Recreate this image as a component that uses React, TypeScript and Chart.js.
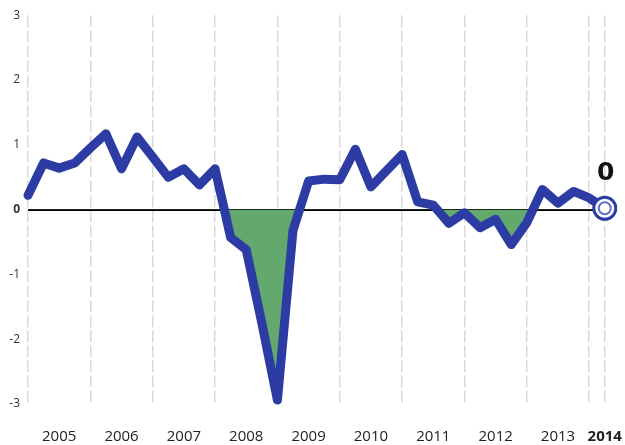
import React, { useEffect, useRef } from "react";
import { Chart, registerables } from "chart.js";

Chart.register(...registerables);

const START_YEAR = 2005;
// quarterly values, 2005 Q1 .. 2014 Q2
const values: number[] = [
  0.22, 0.72, 0.64, 0.72, 0.95, 1.17, 0.63, 1.12, 0.81, 0.5,
  0.63, 0.38, 0.63, -0.43, -0.62, -1.75, -2.94, -0.32, 0.44, 0.47,
  0.46, 0.93, 0.35, 0.6, 0.85, 0.12, 0.07, -0.21, -0.05, -0.28,
  -0.15, -0.54, -0.2, 0.31, 0.1, 0.28, 0.18, 0.02,
];
const yearLabels: string[] = ["2005", "2006", "2007", "2008", "2009", "2010", "2011", "2012", "2013", "2014"];
const yTicks: number[] = [-3, -2, -1, 0, 1, 2, 3];
const lastLabel = "0";

const BLUE = "#2c3ca4";
const GREEN = "#63a96d";
const FONT = "'Open Sans', 'DejaVu Sans', sans-serif";

export default function App() {
  const ref = useRef<HTMLCanvasElement | null>(null);

  useEffect(() => {
    if (!ref.current) return;
    const points = values.map((v, i) => ({ x: START_YEAR + i / 4, y: v }));
    const lastIdx = values.length - 1;
    const lastX = START_YEAR + lastIdx / 4;

    const tickValues: number[] = [];
    for (let i = 0; i < yearLabels.length; i++) {
      tickValues.push(START_YEAR + i);
      if (i < yearLabels.length - 1) tickValues.push(START_YEAR + i + 0.5);
    }
    tickValues.push(lastX);

    const labelFor = (v: number): string => {
      if (Math.abs(v - lastX) < 1e-6) return yearLabels[yearLabels.length - 1];
      if (Math.abs(v - Math.round(v)) < 1e-6) return "";
      return String(Math.floor(v));
    };

    const endLabelPlugin = {
      id: "endLabel",
      afterDatasetsDraw(chart: any) {
        const meta = chart.getDatasetMeta(0);
        const el = meta.data[lastIdx];
        if (!el) return;
        const c = chart.ctx;
        c.save();
        c.beginPath();
        c.arc(el.x, el.y, 6, 0, Math.PI * 2);
        c.lineWidth = 2;
        c.strokeStyle = "#6070c8";
        c.stroke();
        c.font = `900 25px 'DejaVu Sans', sans-serif`;
        c.fillStyle = "#111";
        c.textAlign = "center";
        c.textBaseline = "middle";
        c.fillText(lastLabel, el.x + 1, el.y - 35);
        c.restore();
      },
    };

    const chart = new Chart(ref.current, {
      type: "line",
      data: {
        datasets: [
          {
            data: points,
            borderColor: BLUE,
            borderWidth: 9,
            borderJoinStyle: "round",
            borderCapStyle: "round",
            tension: 0,
            fill: { target: { value: 0 }, above: "rgba(0,0,0,0)", below: GREEN },
            pointRadius: (ctx: any) => (ctx.dataIndex === lastIdx ? 11 : 0),
            pointBorderWidth: 3,
            pointBorderColor: BLUE,
            pointBackgroundColor: "#ffffff",
            pointHoverRadius: 0,
            clip: false as any,
          } as any,
        ],
      },
      options: {
        animation: false,
        responsive: true,
        maintainAspectRatio: false,
        layout: { padding: { top: 15, right: 9, left: 0, bottom: 0 } },
        plugins: {
          legend: { display: false },
          tooltip: { enabled: false },
        },
        scales: {
          x: {
            type: "linear",
            min: START_YEAR,
            max: 2014.35,
            afterBuildTicks: (scale: any) => {
              scale.ticks = tickValues.map((v) => ({ value: v }));
            },
            afterFit: (scale: any) => {
              scale.height = 41;
              scale.paddingLeft = 0;
              scale.paddingRight = 0;
            },
            grid: {
              drawTicks: false,
              color: (ctx: any) => {
                const v = ctx.tick ? ctx.tick.value : 0;
                const isLabelOnly = Math.abs(v - Math.round(v)) > 1e-6 && Math.abs(v - lastX) > 1e-6;
                return isLabelOnly ? "rgba(0,0,0,0)" : "rgba(170,170,170,0.45)";
              },
              lineWidth: 1.5,
            },
            border: { display: false, dash: [12, 3] },
            ticks: {
              autoSkip: false,
              maxRotation: 0,
              padding: 24,
              color: "#222",
              font: (ctx: any) =>
                ctx.tick && Math.abs(ctx.tick.value - lastX) < 1e-6
                  ? { family: FONT, size: 15, weight: "bold" }
                  : { family: FONT, size: 15, weight: "normal" },
              callback: (v: any) => labelFor(Number(v)),
            },
          },
          y: {
            min: -3,
            max: 3,
            afterBuildTicks: (scale: any) => {
              scale.ticks = yTicks.map((v) => ({ value: v }));
            },
            afterFit: (scale: any) => {
              scale.width = 28;
            },
            grid: {
              drawTicks: false,
              color: (ctx: any) => (ctx.tick && ctx.tick.value === 0 ? "#000" : "rgba(0,0,0,0)"),
              lineWidth: (ctx: any) => (ctx.tick && ctx.tick.value === 0 ? 2 : 0),
            },
            border: { display: false },
            ticks: {
              padding: 8,
              color: "#333",
              font: (ctx: any) =>
                ctx.tick && ctx.tick.value === 0
                  ? { family: FONT, size: 12, weight: "bold" }
                  : { family: FONT, size: 12, weight: "normal" },
              callback: (v: any) => String(v),
            },
          },
        },
      } as any,
      plugins: [endLabelPlugin],
    });
    return () => chart.destroy();
  }, []);

  return (
    <div style={{ position: "fixed", left: 0, top: 0, width: 625, height: 445, background: "#fff" }}>
      <canvas ref={ref} />
    </div>
  );
}
